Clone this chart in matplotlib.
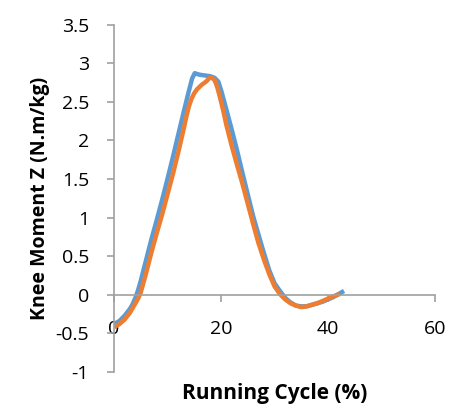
import matplotlib
matplotlib.use('Agg')
import matplotlib.pyplot as plt

plt.rcParams['font.family'] = ['Open Sans', 'DejaVu Sans']

# series 1 (blue)
cycle_a = [0, 1, 2, 3, 3.5, 4, 4.5, 5, 6, 7, 8, 9, 10, 11, 12, 13, 14, 14.6,
           15.1, 15.5, 16, 17, 18, 18.8, 19.5, 20.1, 21, 22, 23, 24, 25, 26,
           27, 27.8, 29, 30, 31, 32, 33, 34, 35, 36, 37, 38, 39, 40, 41, 42, 43]
moment_a = [-0.38, -0.34, -0.27, -0.18, -0.12, -0.04, 0.06, 0.18, 0.45, 0.72,
            0.97, 1.23, 1.50, 1.78, 2.07, 2.36, 2.64, 2.80, 2.87, 2.86, 2.85,
            2.84, 2.83, 2.81, 2.76, 2.63, 2.40, 2.14, 1.87, 1.58, 1.30, 1.02,
            0.78, 0.59, 0.32, 0.15, 0.05, -0.04, -0.10, -0.14, -0.15, -0.15,
            -0.13, -0.11, -0.09, -0.06, -0.03, 0.01, 0.05]

# series 2 (orange)
cycle_b = [0, 1, 2, 3, 4, 4.5, 5, 6, 7, 8, 9, 10, 11, 12, 13, 13.5, 14, 14.5,
           15, 15.5, 16.4, 17.2, 17.9, 18.3, 18.8, 19.3, 19.8, 20.4, 21, 22,
           23, 24, 25, 26, 27, 28, 29, 30, 31, 32, 33, 34, 35, 36, 37, 38, 39,
           40, 41, 42.2]
moment_b = [-0.42, -0.38, -0.32, -0.23, -0.11, -0.05, 0.03, 0.28, 0.55, 0.80,
            1.04, 1.30, 1.56, 1.84, 2.14, 2.30, 2.44, 2.54, 2.61, 2.66, 2.72,
            2.76, 2.81, 2.81, 2.78, 2.69, 2.56, 2.39, 2.20, 1.93, 1.68, 1.44,
            1.18, 0.92, 0.67, 0.46, 0.27, 0.11, 0.01, -0.06, -0.11, -0.14,
            -0.16, -0.15, -0.13, -0.11, -0.08, -0.05, -0.02, 0.01]

fig = plt.figure(figsize=(4.5, 4.05), dpi=100)
ax = fig.add_axes([0.2533, 0.0815, 0.7134, 0.858])

ax.plot(cycle_a, moment_a, color='#5B9BD5', linewidth=3.2, solid_capstyle='butt')
ax.plot(cycle_b, moment_b, color='#ED7D31', linewidth=3.2, solid_capstyle='butt')

ax.set_xlim(0, 60)
ax.set_ylim(-1, 3.5)
ax.set_xticks([0, 20, 40, 60])
ax.set_yticks([-1, -0.5, 0, 0.5, 1, 1.5, 2, 2.5, 3, 3.5])
ax.set_yticklabels(['-1', '-0.5', '0', '0.5', '1', '1.5', '2', '2.5', '3', '3.5'])

for s in ['top', 'right']:
    ax.spines[s].set_visible(False)
ax.spines['bottom'].set_position(('data', 0))
ax.spines['bottom'].set_color('#a0a0a0')
ax.spines['left'].set_color('#a0a0a0')
ax.spines['bottom'].set_linewidth(1.2)
ax.spines['left'].set_linewidth(1.2)

ax.tick_params(axis='y', direction='out', length=5, width=1.2, color='#a0a0a0',
               pad=13, labelsize=14)
ax.tick_params(axis='x', direction='out', length=5, width=1.2, color='#a0a0a0',
               pad=13, labelsize=14)

ax.set_ylabel('Knee Moment Z (N.m/kg)', fontsize=14, fontweight='bold', labelpad=4)
fig.text(0.61, 0.016, 'Running Cycle (%)', ha='center', va='baseline',
         fontsize=15, fontweight='bold')

fig.savefig('out.png', dpi=100)
